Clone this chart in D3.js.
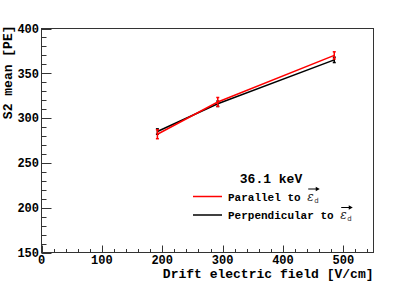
<!DOCTYPE html>
<html><head><meta charset="utf-8">
<script src="https://cdn.jsdelivr.net/npm/d3@7"></script>
<style>body{margin:0;background:#fff}svg{display:block}text{white-space:pre}</style>
</head><body>
<script>
const fieldX = [192, 292, 485];
const parallelY = [282, 318, 370];
const parallelErr = [5, 5, 4];
const perpY = [285, 316, 365];
const perpErr = [3, 3, 3];
const xTicks = [0, 100, 200, 300, 400, 500];
const yTicks = [150, 200, 250, 300, 350, 400];
const legendTitle = "36.1 keV";
const seriesNames = ["Parallel to", "Perpendicular to"];

const W = 415, H = 281;
const L = 41.5, R = 373.5, T = 28.5, B = 252.5;
const svg = d3.select("body").append("svg").attr("width", W).attr("height", H);
const x = d3.scaleLinear().domain([0, 550]).range([L, R]);
const y = d3.scaleLinear().domain([150, 400]).range([B, T]);
const font = "'Liberation Mono', 'DejaVu Sans Mono', monospace";
const frameCol = "#333";

// frame
svg.append("rect").attr("x", L).attr("y", T).attr("width", R - L).attr("height", B - T)
  .attr("fill", "none").attr("stroke", frameCol).attr("stroke-width", 1);

// x ticks (inside)
const xMinor = d3.range(0, 551, 20);
svg.append("g").selectAll("line").data(xMinor).join("line")
  .attr("x1", d => Math.round(x(d)) + 0.5).attr("x2", d => Math.round(x(d)) + 0.5)
  .attr("y1", B).attr("y2", d => B - (d % 100 === 0 ? 7 : 3.5))
  .attr("stroke", frameCol);
svg.append("g").selectAll("text").data(xTicks).join("text")
  .attr("x", d => x(d)).attr("y", 263.5).attr("text-anchor", "middle")
  .attr("font-family", font).attr("font-weight", "bold").attr("font-size", 12)
  .text(d => d);

// y ticks (inside)
const yMinor = d3.range(150, 401, 10);
svg.append("g").selectAll("line").data(yMinor).join("line")
  .attr("y1", d => Math.round(y(d)) + 0.5).attr("y2", d => Math.round(y(d)) + 0.5)
  .attr("x1", L).attr("x2", d => L + (d % 50 === 0 ? 10 : 5))
  .attr("stroke", frameCol);
svg.append("g").selectAll("text").data(yTicks).join("text")
  .attr("x", 39).attr("y", d => y(d) + 4.2).attr("text-anchor", "end")
  .attr("font-family", font).attr("font-weight", "bold").attr("font-size", 12)
  .text(d => d);

// axis titles
svg.append("text").attr("x", R).attr("y", 278).attr("text-anchor", "end")
  .attr("font-family", font).attr("font-weight", "bold").attr("font-size", 13)
  .text("Drift electric field [V/cm]");
svg.append("text").attr("transform", `translate(12,${T - 3}) rotate(-90)`).attr("text-anchor", "end")
  .attr("font-family", font).attr("font-weight", "bold").attr("font-size", 13)
  .text("S2 mean [PE]");

// series
function drawSeries(ys, errs, color) {
  const pts = fieldX.map((d, i) => [x(d), y(ys[i])]);
  svg.append("path").attr("d", d3.line()(pts)).attr("fill", "none")
    .attr("stroke", color).attr("stroke-width", 1.5);
  const g = svg.append("g").attr("stroke", color).attr("stroke-width", 1.5);
  fieldX.forEach((d, i) => {
    const cx = x(d), y1 = y(ys[i] - errs[i]), y2 = y(ys[i] + errs[i]);
    g.append("line").attr("x1", cx).attr("x2", cx).attr("y1", y1).attr("y2", y2);
    g.append("line").attr("x1", cx - 1.5).attr("x2", cx + 1.5).attr("y1", y1).attr("y2", y1);
    g.append("line").attr("x1", cx - 1.5).attr("x2", cx + 1.5).attr("y1", y2).attr("y2", y2);
  });
}
drawSeries(perpY, perpErr, "#000");
drawSeries(parallelY, parallelErr, "#ff0000");

// legend
svg.append("text").attr("x", 271).attr("y", 183).attr("text-anchor", "middle")
  .attr("font-family", font).attr("font-weight", "bold").attr("font-size", 13)
  .text(legendTitle);
const legColors = ["#ff0000", "#000"];
const legY = [196.5, 215];
seriesNames.forEach((name, i) => {
  svg.append("line").attr("x1", 193).attr("x2", 222).attr("y1", legY[i]).attr("y2", legY[i])
    .attr("stroke", legColors[i]).attr("stroke-width", 1.5);
  const t = svg.append("text").attr("x", 228).attr("y", legY[i] + 4)
    .attr("font-family", font).attr("font-weight", "bold").attr("font-size", 11)
    .text(name);
  const w = t.node().getComputedTextLength();
  const ex = 228 + w + 6.6;
  svg.append("text").attr("x", ex).attr("y", legY[i] + 4)
    .attr("font-family", "'DejaVu Serif', serif").attr("font-style", "italic").attr("font-size", 12)
    .attr("fill", "#222").text("ε");
  svg.append("text").attr("x", ex + 7).attr("y", legY[i] + 6)
    .attr("font-family", "'DejaVu Sans', sans-serif").attr("font-size", 7).attr("fill", "#333").text("d");
  // arrow above epsilon
  svg.append("line").attr("x1", ex + 1).attr("x2", ex + 11).attr("y1", legY[i] - 7.5).attr("y2", legY[i] - 7.5)
    .attr("stroke", "#000").attr("stroke-width", 1);
  svg.append("path").attr("d", `M${ex + 12.5},${legY[i] - 7.5} l-4,-2.2 l0,4.4 z`).attr("fill", "#000");
});
</script>
</body></html>
